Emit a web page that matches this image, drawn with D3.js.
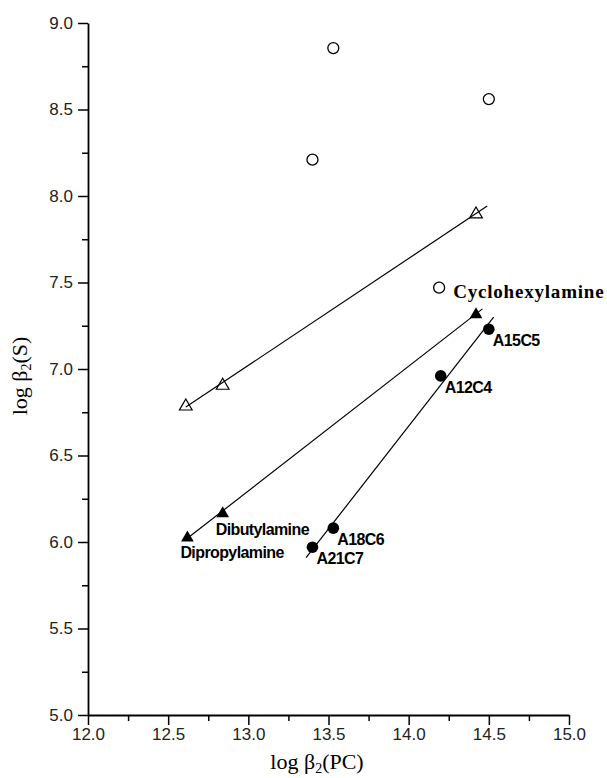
<!DOCTYPE html>
<html>
<head>
<meta charset="utf-8">
<script src="https://cdn.jsdelivr.net/npm/d3@7"></script>
<style>
  body { margin: 0; background: #fff; }
  .tick text { font-family: "Liberation Sans Narrow", "Liberation Sans", Arial, sans-serif; font-size: 17px; fill: #222; }
  .lbl { font-family: "Liberation Sans Narrow", "Liberation Sans", Arial, sans-serif; font-size: 16px; font-weight: bold; letter-spacing: -0.6px; }
</style>
</head>
<body>
<script>
// open circles (no fit)
var openCircleX = [13.53, 14.50, 13.40, 14.19];
var openCircleY = [8.855, 8.56, 8.21, 7.47];
// open triangles
var openTriX = [12.61, 12.84, 14.42];
var openTriY = [6.79, 6.91, 7.90];
// filled triangles
var fillTriX = [12.62, 12.84, 14.42];
var fillTriY = [6.03, 6.17, 7.32];
// filled circles (crown ethers)
var fillCircX = [14.50, 14.20, 13.53, 13.40];
var fillCircY = [7.23, 6.96, 6.08, 5.97];
var fillCircNames = ['A15C5', 'A12C4', 'A18C6', 'A21C7'];
// x spans of the fitted lines
var openTriFitSpan = [12.61, 14.49];
var fillTriFitSpan = [12.62, 14.46];
var fillCircFitSpan = [13.36, 14.53];

var xTicks = [12.0, 12.5, 13.0, 13.5, 14.0, 14.5, 15.0];
var yTicks = [5.0, 5.5, 6.0, 6.5, 7.0, 7.5, 8.0, 8.5, 9.0];

var margin = {top: 23, right: 38, bottom: 63, left: 88},
  width = 607 - margin.left - margin.right,
  height = 778 - margin.top - margin.bottom;

var svg = d3.select('body')
  .append('svg')
  .attr('width', 607)
  .attr('height', 778)

let chart = svg.append('g')
  .attr('transform', `translate(${margin.left},${margin.top})`)

var x = d3.scaleLinear().domain([12, 15]).range([0, width])
var y = d3.scaleLinear().domain([5, 9]).range([height, 0])

// minor ticks
chart.append('g')
  .attr('transform', `translate(0,${height})`)
  .call(d3.axisBottom(x).tickValues(d3.range(12.25, 15, 0.5)).tickSize(6).tickFormat(''))
  .call(g => g.select('.domain').remove())
  .selectAll('line').attr('stroke-width', 1.5)
chart.append('g')
  .call(d3.axisLeft(y).tickValues(d3.range(5.25, 9, 0.5)).tickSize(6).tickFormat(''))
  .call(g => g.select('.domain').remove())
  .selectAll('line').attr('stroke-width', 1.5)

function xAxis(g) {
  g.attr('transform', `translate(0,${height})`)
   .call(d3.axisBottom(x).tickValues(xTicks).tickSize(10).tickSizeOuter(0).tickPadding(3).tickFormat(d3.format('.1f')))
  g.selectAll('line').attr('stroke-width', 1.5)
  g.select('.domain').attr('stroke-width', 1.8)
}
function yAxis(g) {
  g.call(d3.axisLeft(y).tickValues(yTicks).tickSize(10).tickSizeOuter(0).tickPadding(5).tickFormat(d3.format('.1f')))
  g.selectAll('line').attr('stroke-width', 1.5)
  g.select('.domain').attr('stroke-width', 1.8)
}
chart.append('g').call(xAxis)
chart.append('g').call(yAxis)

// least squares fit lines
function fit(xs, ys) {
  var mx = d3.mean(xs), my = d3.mean(ys)
  var sxy = d3.sum(xs, (v, i) => (v - mx) * (ys[i] - my))
  var sxx = d3.sum(xs, v => (v - mx) * (v - mx))
  var b = sxy / sxx
  return v => my + b * (v - mx)
}
function drawFit(xs, ys, span) {
  var f = fit(xs, ys)
  chart.append('line')
    .attr('x1', x(span[0])).attr('y1', y(f(span[0])))
    .attr('x2', x(span[1])).attr('y2', y(f(span[1])))
    .attr('stroke', 'black')
    .attr('stroke-width', 1.2)
}
drawFit(openTriX, openTriY, openTriFitSpan)
drawFit(fillTriX, fillTriY, fillTriFitSpan)
drawFit(fillCircX, fillCircY, fillCircFitSpan)

var tri = d3.symbol().type(d3.symbolTriangle).size(70)

chart.append('g').selectAll('circle')
  .data(openCircleX)
  .enter().append('circle')
  .attr('cx', d => x(d))
  .attr('cy', (d, i) => y(openCircleY[i]))
  .attr('r', 5.5)
  .attr('fill', 'white')
  .attr('stroke', 'black')
  .attr('stroke-width', 1.3)

chart.append('g').selectAll('path')
  .data(openTriX)
  .enter().append('path')
  .attr('d', tri)
  .attr('transform', (d, i) => `translate(${x(d)},${y(openTriY[i]) + 1})`)
  .attr('fill', 'none')
  .attr('stroke', 'black')
  .attr('stroke-width', 1.2)

chart.append('g').selectAll('path')
  .data(fillTriX)
  .enter().append('path')
  .attr('d', tri)
  .attr('transform', (d, i) => `translate(${x(d)},${y(fillTriY[i]) + 1})`)
  .attr('fill', 'black')

chart.append('g').selectAll('circle')
  .data(fillCircX)
  .enter().append('circle')
  .attr('cx', d => x(d))
  .attr('cy', (d, i) => y(fillCircY[i]))
  .attr('r', 5.8)
  .attr('fill', 'black')

// point labels
chart.append('g').selectAll('text')
  .data(fillCircNames)
  .enter().append('text')
  .attr('class', 'lbl')
  .attr('x', (d, i) => x(fillCircX[i]) + 4)
  .attr('y', (d, i) => y(fillCircY[i]) + 17)
  .text(d => d)

chart.append('text')
  .attr('class', 'lbl')
  .attr('x', x(fillTriX[1]) - 7)
  .attr('y', y(fillTriY[1]) + 22)
  .text('Dibutylamine')
chart.append('text')
  .attr('class', 'lbl')
  .attr('x', x(fillTriX[0]) - 7)
  .attr('y', y(fillTriY[0]) + 21)
  .text('Dipropylamine')
chart.append('text')
  .attr('x', x(openCircleX[3]) + 14)
  .attr('y', y(openCircleY[3]) + 10)
  .attr('font-family', '"Liberation Serif", "Times New Roman", serif')
  .attr('font-weight', 'bold')
  .attr('font-size', '19px')
  .attr('letter-spacing', '0.8px')
  .text('Cyclohexylamine')

// axis titles
let xTitle = chart.append('text')
  .attr('x', 317 - margin.left)
  .attr('y', 769 - margin.top)
  .attr('text-anchor', 'middle')
  .attr('font-family', '"Liberation Serif", "Times New Roman", serif')
  .attr('font-size', '22px')
xTitle.append('tspan').text('log β')
xTitle.append('tspan').attr('font-size', '14px').attr('dy', 4).text('2')
xTitle.append('tspan').attr('dy', -4).text('(PC)')

let yTitle = svg.append('text')
  .attr('transform', 'translate(27,376) rotate(-90)')
  .attr('text-anchor', 'middle')
  .attr('font-family', '"Liberation Serif", "Times New Roman", serif')
  .attr('font-size', '22px')
yTitle.append('tspan').text('log β')
yTitle.append('tspan').attr('font-size', '14px').attr('dy', 4).text('2')
yTitle.append('tspan').attr('dy', -4).text('(S)')
</script>
</body>
</html>
